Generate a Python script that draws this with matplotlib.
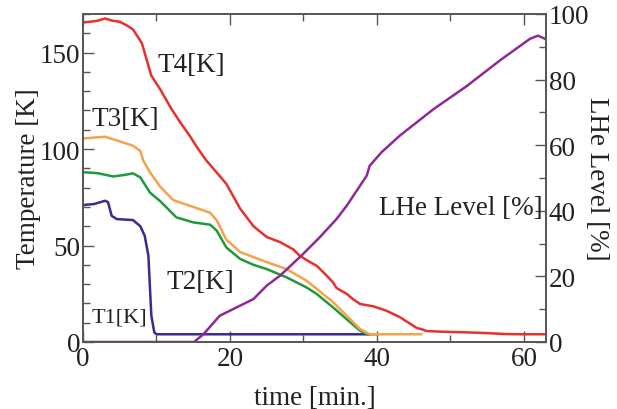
import matplotlib
matplotlib.use('Agg')
import matplotlib.pyplot as plt
from matplotlib.ticker import MultipleLocator

plt.rcParams['font.family'] = ['Liberation Serif', 'DejaVu Serif']
plt.rcParams['mathtext.fontset'] = 'stix'

# T1 (blue)
t1_time = [0, 1.5, 3, 3.4, 3.9, 4.6, 6.8, 7.8, 8.4, 8.9, 9.1, 9.3, 9.7, 10, 20, 39]
t1_temp = [71, 71.5, 73.2, 72.5, 65.4, 63.7, 63.2, 60, 55, 44.7, 29, 13.6, 5, 4, 4, 4]

# T2 (green)
t2_time = [0, 2, 4.1, 5.5, 6.8, 7.8, 9.1, 10.5, 12.7, 15, 17.3, 18.2, 19.5, 21.4,
           23.2, 25, 27.7, 30.4, 31.8, 34, 36.3, 37.7, 38.6, 40]
t2_temp = [88, 87.5, 85.8, 86.5, 87.4, 85.3, 77.5, 73, 64.6, 62, 60.8, 57.7, 49, 43,
           40, 37.8, 33.5, 28.3, 24.9, 18, 10.4, 5.9, 4.1, 4]

# T3 (orange)
t3_time = [0, 3, 5, 6.8, 7.8, 8.2, 9.1, 10.5, 12.3, 15, 17.3, 18.2, 19.5, 21.4, 23.2,
           25, 27.7, 30.4, 31.8, 34, 36.3, 37.7, 39, 40, 46]
t3_temp = [105.5, 106.4, 104, 101.7, 99, 94, 88, 80.5, 73.5, 70, 67, 63, 53, 46.6, 44,
           41.4, 37.8, 31.8, 27.5, 20.7, 12, 6.7, 4, 4, 4]

# T4 (red)
t4_time = [0, 1, 2, 3, 4, 5, 6, 6.8, 8, 9.3, 10.5, 12, 13.2, 14.5, 15.5, 16.8, 17.7,
           19.5, 21.4, 23.2, 25, 26.8, 28.6, 29.5, 30.9, 31.8, 33, 34, 34.5, 35.9, 36.8,
           37.7, 39.5, 41.3, 43.1, 44.5, 45.4, 46.2, 46.7, 49, 52.2, 55, 57.6, 60, 63]
t4_temp = [165.6, 166, 166.5, 167.7, 166.5, 166, 164, 162, 155, 138, 131, 121, 114, 107,
           101, 94, 90, 82, 69, 60, 54.4, 51.8, 48, 44.7, 41.4, 39.5, 35, 31, 28, 24.9, 22,
           19.7, 18.5, 16.2, 12.9, 9.5, 7.3, 6.5, 5.7, 5.3, 5, 4.6, 4.1, 4, 4]

# LHe level (purple)
lhe_time = [0, 15.1, 16.4, 18.6, 20.4, 22.3, 23.2, 25, 26.8, 29.7, 32.2, 34.5, 35.9,
            38.6, 39, 40.6, 43.1, 47.7, 52.2, 56.7, 60.8, 61.9, 62.9]
lhe_level = [0, 0, 2.4, 8, 10, 12.1, 13.1, 17.2, 20.2, 26.3, 31.9, 37.5, 41.6,
             50.7, 53.7, 57.8, 62.9, 71, 78, 85.8, 92.4, 93.4, 92.4]

fs = 19.5
txt = '#222222'
edge = '#555555'
lw = 1.8

fig, ax1 = plt.subplots(figsize=(6.17, 4.10), dpi=100)
fig.subplots_adjust(left=83/617, right=546/617, bottom=1-343/410, top=1-15/410)

ax1.plot(t1_time, t1_temp, color='#3b2a90', linewidth=lw)
ax1.plot(t2_time, t2_temp, color='#1e9a3c', linewidth=lw)
ax1.plot(t3_time, t3_temp, color='#f7a24a', linewidth=lw)
ax1.plot(t4_time, t4_temp, color='#e8302c', linewidth=lw)
ax1.set_xlim(0, 63)
ax1.set_ylim(0, 170)
ax1.xaxis.set_major_locator(MultipleLocator(20))
ax1.xaxis.set_minor_locator(MultipleLocator(10))
ax1.yaxis.set_major_locator(MultipleLocator(50))
ax1.yaxis.set_minor_locator(MultipleLocator(10))
ax1.tick_params(which='both', direction='in', top=True, right=False,
                colors=edge, labelcolor=txt, labelsize=fs, width=1)
ax1.tick_params(which='major', length=8)
ax1.tick_params(which='minor', length=5)
ax1.tick_params(axis='y', pad=2)
ax1.tick_params(axis='x', pad=3)
ax1.set_xlabel('time [min.]', fontsize=fs, color=txt, labelpad=10)
ax1.set_ylabel('Temperature [K]', fontsize=fs, color=txt, labelpad=-1)

ax1.text(14.7, 144, 'T4[K]', fontsize=fs, color=txt, ha='center', va='center')
ax1.text(5.7, 116, 'T3[K]', fontsize=fs, color=txt, ha='center', va='center')
ax1.text(16.0, 31.6, 'T2[K]', fontsize=fs, color=txt, ha='center', va='center')
ax1.text(4.9, 13, 'T1[K]', fontsize=16, color=txt, ha='center', va='center')

ax2 = ax1.twinx()
ax2.plot(lhe_time, lhe_level, color='#8e2a95', linewidth=lw)
ax2.set_ylim(0, 100)
ax2.yaxis.set_major_locator(MultipleLocator(20))
ax2.yaxis.set_minor_locator(MultipleLocator(10))
ax2.tick_params(which='both', direction='in', colors=edge, labelcolor=txt,
                labelsize=fs, width=1, pad=2)
ax2.tick_params(which='major', length=8)
ax2.tick_params(which='minor', length=5)
ax2.set_ylabel('LHe Level [%]', fontsize=fs, color=txt, rotation=270, labelpad=14)
ax2.text(62.6, 41, 'LHe Level [%]', fontsize=fs, color=txt, ha='right', va='center')

for ax in (ax1, ax2):
    for s in ax.spines.values():
        s.set_color(edge)
        s.set_linewidth(1.2)

fig.savefig('out.png', dpi=100)
